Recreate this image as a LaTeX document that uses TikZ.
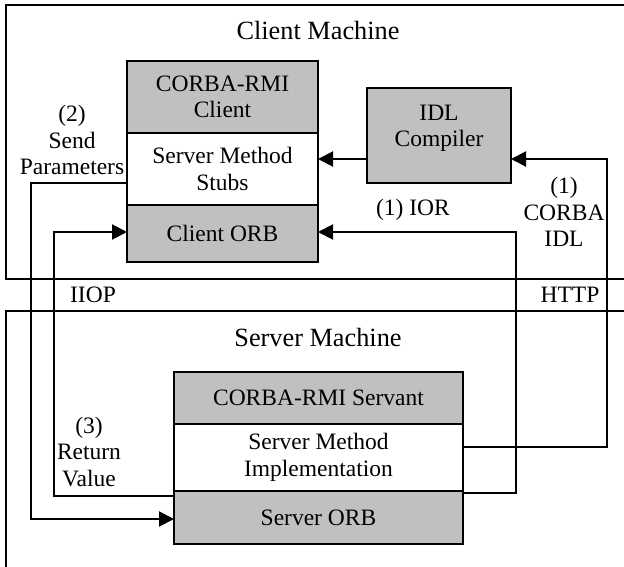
\documentclass[tikz,border=0pt]{standalone}
\usepackage{fontspec}
\setmainfont{Liberation Serif}
\usetikzlibrary{arrows.meta}
\definecolor{boxgray}{RGB}{192,192,192}
\begin{document}
\begin{tikzpicture}[x=1pt,y=-1pt,
  every node/.style={font=\fontsize{23.5}{26.5}\selectfont},
  wire/.style={line width=2pt},
  arr/.style={wire,-{Triangle[length=15pt,width=15pt]}},
  graybox/.style={draw,line width=2pt,fill=boxgray,inner sep=0pt,outer sep=0pt,anchor=north west,align=center},
  whitebox/.style={graybox,fill=white},
  lbl/.style={align=center,inner sep=0pt},
  title/.style={font=\fontsize{26.3}{30}\selectfont,anchor=base,inner sep=0pt}]
\useasboundingbox (0,0) rectangle (624,567);
% machine frames
\draw[wire] (640,5) -- (6,5) -- (6,279) -- (640,279);
\draw[wire] (640,311) -- (6,311) -- (6,580);
\node[title] (cm) at (318,40) {Client Machine};
\node[title] (sm) at (318,346) {Server Machine};
% client stack
\node[graybox,minimum width=191pt,minimum height=72pt] (chead) at (127,61) {CORBA-RMI\\Client};
\node[whitebox,minimum width=191pt,minimum height=72pt] (stubs) at (127,133) {Server Method\\Stubs};
\node[graybox,minimum width=191pt,minimum height=57pt] (corb) at (127,205) {Client ORB};
% IDL compiler
\node[graybox,minimum width=144pt,minimum height=95pt] (idl) at (367,88) {};
\node[lbl] (idltxt) at (439,128.5) {IDL\\Compiler};
% server stack
\node[graybox,minimum width=289pt,minimum height=52pt] (shead) at (174,372) {CORBA-RMI Servant};
\node[whitebox,minimum width=289pt,minimum height=67pt] (simpl) at (174,424) {Server Method\\Implementation};
\node[graybox,minimum width=289pt,minimum height=53pt] (sorb) at (174,491) {Server ORB};
% routing points
\coordinate (spA) at (31,183);
\coordinate (spB) at (31,519);
\coordinate (rvA) at (54,496);
\coordinate (rvB) at (54,232);
\coordinate (iorA) at (516,493);
\coordinate (iorB) at (516,232);
\coordinate (hA) at (607,447);
\coordinate (hB) at (607,159);
% connectors
\draw[arr] (stubs.west |- spA) -- (spA) -- (spB) -- (sorb.west |- spB);
\draw[arr] (sorb.west |- rvA) -- (rvA) -- (rvB) -- (corb.west |- rvB);
\draw[arr] (sorb.east |- iorA) -- (iorA) -- (iorB) -- (corb.east |- iorB);
\draw[arr] (simpl.east |- hA) -- (hA) -- (hB) -- (idl.east |- hB);
\draw[arr] (idl.west |- hB) -- (stubs.east |- hB);
% labels
\node[lbl] (l2) at (72,140) {(2)\\Send\\Parameters};
\node[lbl] (l3) at (89,452) {(3)\\Return\\Value};
\node[lbl] (l1a) at (564,212) {(1)\\CORBA\\IDL};
\node[lbl] (l1b) at (413,210) {(1) IOR};
\node[lbl] (iiop) at (93,295) {IIOP};
\node[lbl] (http) at (570,295) {HTTP};
\end{tikzpicture}
\end{document}
